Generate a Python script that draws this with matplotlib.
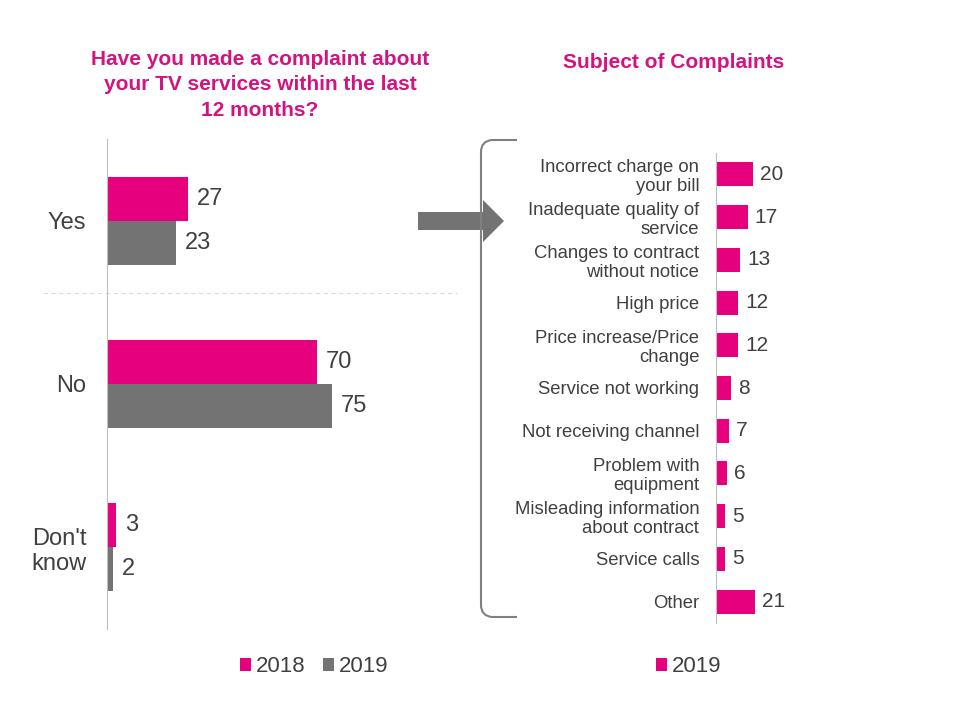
# two-panel chart: TV complaints yes/no by year and the subjects of complaints

import matplotlib
matplotlib.use('Agg')
import matplotlib.pyplot as plt
import numpy as np
from matplotlib.patches import Polygon, PathPatch
from matplotlib.path import Path

plt.rcParams['font.family'] = ['Liberation Sans', 'DejaVu Sans']

### data ###
answers = ["Yes", "No", "Don't\nknow"]
years = ["2018", "2019"]
answers2018 = [27, 70, 3]
answers2019 = [23, 75, 2]

subjects = ["Incorrect charge on\nyour bill", "Inadequate quality of\nservice",
            "Changes to contract\nwithout notice", "High price",
            "Price increase/Price\nchange", "Service not working",
            "Not receiving channel", "Problem with\nequipment",
            "Misleading information\nabout contract", "Service calls", "Other"]
subjects2019 = [20, 17, 13, 12, 12, 8, 7, 6, 5, 5, 21]

magenta = '#E6007E'
titleCol = '#D3137F'
grey = '#737373'
textCol = '#404040'
axisCol = '#BFBFBF'

W, H = 960.0, 720.0
fig = plt.figure(figsize=(9.6, 7.2), dpi=100)

def pxAxes(left, top, right, bottom):
	a = fig.add_axes([left / W, 1 - bottom / H, (right - left) / W, (bottom - top) / H])
	a.patch.set_visible(False)
	return a

# overlay for decorations in pixel coordinates
over = pxAxes(0, 0, W, H)
over.set_xlim(0, W)
over.set_ylim(H, 0)
over.axis('off')
over.plot([43, 457], [293, 293], color='#D9D9D9', lw=0.8, ls=(0, (4, 3)))
over.add_patch(Polygon([(418, 212), (483, 212), (483, 200), (504, 221), (483, 242), (483, 230), (418, 230)],
                       closed=True, color=grey, lw=0))
verts = [(517, 140), (492, 140), (481, 141), (481, 152), (481, 605), (481, 616), (492, 617), (517, 617)]
codes = [Path.MOVETO, Path.LINETO, Path.CURVE3, Path.CURVE3, Path.LINETO, Path.CURVE3, Path.CURVE3, Path.LINETO]
over.add_patch(PathPatch(Path(verts, codes), fill=False, edgecolor='#808080', lw=1.5))

### left chart ###
ax = pxAxes(107, 139, 452, 629)
y = np.arange(len(answers))
h = 0.27
b1 = ax.barh(y - h / 2, answers2018, height=h, color=magenta, label=years[0])
b2 = ax.barh(y + h / 2, answers2019, height=h, color=grey, label=years[1])
ax.set_xlim(0, 115)
ax.set_ylim(2.5, -0.5)
ax.set_yticks(y)
ax.set_yticklabels(answers, fontsize=17, color=textCol)
ax.tick_params(axis='y', length=0, pad=15)
ax.set_xticks([])
for s in ['top', 'right', 'bottom']:
	ax.spines[s].set_visible(False)
ax.spines['left'].set_color(axisCol)
for bars, vals in [(b1, answers2018), (b2, answers2019)]:
	for bar, v in zip(bars, vals):
		ax.text(v + 3, bar.get_y() + bar.get_height() / 2, str(v), va='center', ha='left',
		        fontsize=17, color=textCol)

fig.text(260 / W, 1 - 85 / H, "Have you made a complaint about\nyour TV services within the last\n12 months?",
         ha='center', va='center', fontsize=15, fontweight='bold', color=titleCol, linespacing=1.45)

fig.legend(handles=[b1, b2], loc='center', bbox_to_anchor=(314 / W, 1 - 667 / H), ncol=2, frameon=False,
           fontsize=16, handlelength=0.5, handleheight=0.5, handletextpad=0.23, columnspacing=0.77,
           labelcolor=textCol)

### right chart ###
ax2 = pxAxes(716, 153, 820, 623)
y2 = np.arange(len(subjects))
b3 = ax2.barh(y2, subjects2019, height=0.56, color=magenta, label="2019")
ax2.set_xlim(0, 56)
ax2.set_ylim(len(subjects) - 0.5, -0.5)
ax2.set_yticks(y2)
ax2.set_yticklabels(subjects, fontsize=13.3, color=textCol, linespacing=1.15)
ax2.tick_params(axis='y', length=0, pad=12)
ax2.set_xticks([])
for s in ['top', 'right', 'bottom']:
	ax2.spines[s].set_visible(False)
ax2.spines['left'].set_color(axisCol)
for bar, v in zip(b3, subjects2019):
	ax2.text(v + 3.8, bar.get_y() + bar.get_height() / 2, str(v), va='center', ha='left',
	         fontsize=15, color=textCol)

fig.text(674 / W, 1 - 62 / H, "Subject of Complaints", ha='center', va='center', fontsize=15,
         fontweight='bold', color=titleCol)

fig.legend(handles=[b3], loc='center', bbox_to_anchor=(689 / W, 1 - 667 / H), frameon=False,
           fontsize=16, handlelength=0.5, handleheight=0.5, handletextpad=0.23, labelcolor=textCol)

plt.savefig('out.png', dpi=100)
